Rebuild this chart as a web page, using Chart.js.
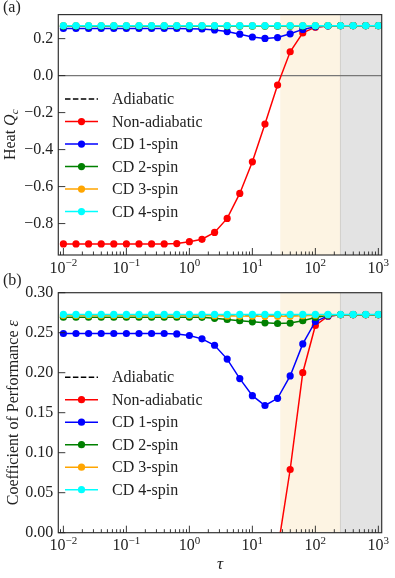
<!DOCTYPE html>
<html>
<head>
<meta charset="utf-8">
<script src="https://cdn.jsdelivr.net/npm/chart.js@4.4.1/dist/chart.umd.min.js"></script>
<style>
  body { margin: 0; background: #fff; }
  canvas { position: absolute; left: 0; }
  #heat { top: 0; }
  #cop { top: 268px; }
</style>
</head>
<body>
<canvas id="heat" width="395" height="278"></canvas>
<canvas id="cop" width="395" height="310"></canvas>
<script>
const tau = [0.01, 0.01585, 0.02512, 0.03981, 0.0631, 0.1, 0.1585, 0.2512, 0.3981, 0.631,
  1, 1.585, 2.512, 3.981, 6.31, 10, 15.85, 25.12, 39.81, 63.1,
  100, 158.5, 251.2, 398.1, 631, 1000]

const labels = ["Adiabatic", "Non-adiabatic", "CD 1-spin", "CD 2-spin", "CD 3-spin", "CD 4-spin"]
const colors = ["#000000", "#ff0000", "#0000ff", "#008000", "#ffa500", "#00ffff"]

// panel (a): heat Q_c
const heatAdiabatic = [0.27, 0.27, 0.27, 0.27, 0.27, 0.27, 0.27, 0.27, 0.27, 0.27,
  0.27, 0.27, 0.27, 0.27, 0.27, 0.27, 0.27, 0.27, 0.27, 0.27,
  0.27, 0.27, 0.27, 0.27, 0.27, 0.27]
const heatNonAdiabatic = [-0.91, -0.91, -0.91, -0.91, -0.91, -0.91, -0.91, -0.91, -0.91, -0.908,
  -0.898, -0.885, -0.848, -0.772, -0.637, -0.466, -0.262, -0.051, 0.129, 0.231,
  0.262, 0.269, 0.27, 0.27, 0.27, 0.27]
const heatCD1 = [0.255, 0.255, 0.255, 0.255, 0.255, 0.255, 0.255, 0.255, 0.255, 0.255,
  0.254, 0.252, 0.247, 0.238, 0.224, 0.209, 0.201, 0.206, 0.226, 0.25,
  0.264, 0.269, 0.27, 0.27, 0.27, 0.27]
const heatCD2 = [0.267, 0.267, 0.267, 0.267, 0.267, 0.267, 0.267, 0.267, 0.267, 0.267,
  0.267, 0.267, 0.267, 0.267, 0.267, 0.267, 0.267, 0.267, 0.267, 0.268,
  0.269, 0.27, 0.27, 0.27, 0.27, 0.27]
const heatCD3 = [0.27, 0.27, 0.27, 0.27, 0.27, 0.27, 0.27, 0.27, 0.27, 0.27,
  0.27, 0.27, 0.27, 0.27, 0.27, 0.27, 0.27, 0.27, 0.27, 0.27,
  0.27, 0.27, 0.27, 0.27, 0.27, 0.27]
const heatCD4 = [0.27, 0.27, 0.27, 0.27, 0.27, 0.27, 0.27, 0.27, 0.27, 0.27,
  0.27, 0.27, 0.27, 0.27, 0.27, 0.27, 0.27, 0.27, 0.27, 0.27,
  0.27, 0.27, 0.27, 0.27, 0.27, 0.27]

// panel (b): coefficient of performance
const copAdiabatic = [0.2725, 0.2725, 0.2725, 0.2725, 0.2725, 0.2725, 0.2725, 0.2725, 0.2725, 0.2725,
  0.2725, 0.2725, 0.2725, 0.2725, 0.2725, 0.2725, 0.2725, 0.2725, 0.2725, 0.2725,
  0.2725, 0.2725, 0.2725, 0.2725, 0.2725, 0.2725]
const copNonAdiabatic = [-1.2, -1.2, -1.2, -1.2, -1.2, -1.2, -1.2, -1.2, -1.2, -1.19,
  -1.17, -1.12, -1.04, -0.9, -0.7, -0.45, -0.2, -0.022, 0.079, 0.2,
  0.259, 0.2707, 0.2725, 0.2725, 0.2725, 0.2725]
const copCD1 = [0.249, 0.249, 0.249, 0.249, 0.249, 0.249, 0.249, 0.249, 0.249, 0.2485,
  0.2465, 0.2423, 0.2343, 0.217, 0.1926, 0.1713, 0.159, 0.168, 0.196, 0.236,
  0.264, 0.271, 0.2725, 0.2725, 0.2725, 0.2725]
const copCD2 = [0.2694, 0.2694, 0.2694, 0.2694, 0.2694, 0.2694, 0.2694, 0.2694, 0.2694, 0.2694,
  0.2694, 0.2692, 0.268, 0.2665, 0.265, 0.2636, 0.2624, 0.2615, 0.262, 0.265,
  0.269, 0.2718, 0.2725, 0.2725, 0.2725, 0.2725]
const copCD3 = [0.2715, 0.2715, 0.2715, 0.2715, 0.2715, 0.2715, 0.2715, 0.2715, 0.2715, 0.2715,
  0.2715, 0.2714, 0.2712, 0.271, 0.2708, 0.2706, 0.2705, 0.2705, 0.2706, 0.2712,
  0.2718, 0.2724, 0.2725, 0.2725, 0.2725, 0.2725]
const copCD4 = [0.2728, 0.2728, 0.2728, 0.2728, 0.2728, 0.2728, 0.2728, 0.2728, 0.2728, 0.2728,
  0.2728, 0.2728, 0.2728, 0.2728, 0.2728, 0.2728, 0.2728, 0.2728, 0.2728, 0.2728,
  0.2728, 0.2728, 0.2728, 0.2728, 0.2728, 0.2728]

const xExponents = [-2, -1, 0, 1, 2, 3]
const orangeSpan = [27.7, 250]
const graySpan = [250, 5000]

const serif = "'Liberation Serif', 'DejaVu Serif', serif"
const ink = "#222"
const fs = 16

function makeDatasets(series) {
  return series.map((vals, i) => ({
    label: labels[i],
    data: vals.map((v, k) => ({ x: tau[k], y: v })),
    borderColor: colors[i],
    backgroundColor: colors[i],
    borderWidth: 1.5,
    borderDash: i == 0 ? [5.5, 2.4] : [],
    pointRadius: i == 0 ? 0 : 3.6,
    pointBorderWidth: 0,
    order: 5 - i
  }))
}

// rich text: list of [text, font, dy]
function richWidth(c, parts) {
  let w = 0
  parts.forEach(p => { c.font = p[1]; w += c.measureText(p[0]).width })
  return w
}
function drawRich(c, parts, cx, cy) {
  let x = cx - richWidth(c, parts) / 2
  c.textAlign = "left"
  c.textBaseline = "alphabetic"
  parts.forEach(p => {
    c.font = p[1]
    c.fillText(p[0], x, cy + p[2])
    x += c.measureText(p[0]).width
  })
}

const deco = {
  id: "deco",
  beforeDatasetsDraw(chart, args, o) {
    const c = chart.ctx, a = chart.chartArea, xs = chart.scales.x, ys = chart.scales.y
    c.save()
    let x1 = Math.max(a.left, xs.getPixelForValue(orangeSpan[0]))
    let x2 = xs.getPixelForValue(orangeSpan[1])
    c.fillStyle = "#fdf4e3"
    c.fillRect(x1, a.top, x2 - x1, a.bottom - a.top)
    let g1 = xs.getPixelForValue(graySpan[0])
    c.fillStyle = "#e3e3e3"
    c.fillRect(g1, a.top, a.right - g1, a.bottom - a.top)
    c.strokeStyle = "#d2d0cc"
    c.lineWidth = 1
    c.beginPath(); c.moveTo(g1, a.top); c.lineTo(g1, a.bottom); c.stroke()
    if (o.zeroLine) {
      const y0 = ys.getPixelForValue(0)
      c.strokeStyle = "#777"
      c.lineWidth = 1.3
      c.beginPath(); c.moveTo(a.left, y0); c.lineTo(a.right, y0); c.stroke()
    }
    c.restore()
  },
  afterDatasetsDraw(chart, args, o) {
    const c = chart.ctx, a = chart.chartArea, xs = chart.scales.x, ys = chart.scales.y
    c.save()
    // frame
    c.strokeStyle = "#333"
    c.lineWidth = 1.2
    c.strokeRect(a.left, a.top, a.right - a.left, a.bottom - a.top)
    // ticks pointing inward
    c.lineWidth = 0.9
    c.strokeStyle = "#222"
    c.beginPath()
    ys.ticks.forEach(t => {
      const y = ys.getPixelForValue(t.value)
      c.moveTo(a.left, y); c.lineTo(a.left + 7, y)
    })
    for (let e = -3; e <= 3; e++) {
      for (let k = 1; k <= 9; k++) {
        const v = k * Math.pow(10, e)
        if (v < xs.min || v > xs.max) continue
        const x = xs.getPixelForValue(v)
        c.moveTo(x, a.bottom); c.lineTo(x, a.bottom - (k == 1 ? 7 : 3.5))
      }
    }
    c.stroke()
    // x tick labels 10^n
    c.fillStyle = ink
    xExponents.forEach(e => {
      const x = xs.getPixelForValue(Math.pow(10, e))
      const sup = e < 0 ? "\u2212" + (-e) : String(e)
      drawRich(c, [["10", fs + "px " + serif, 0], [sup, "11px " + serif, -6.5]], x, a.bottom + 17.5)
    })
    // legend
    labels.forEach((lab, i) => {
      const y = a.top + 84.5 + i * 22.5
      c.strokeStyle = colors[i]
      c.lineWidth = 1.5
      c.setLineDash(i == 0 ? [5.5, 2.4] : [])
      c.beginPath(); c.moveTo(a.left + 6.7, y); c.lineTo(a.left + 39.7, y); c.stroke()
      c.setLineDash([])
      if (i > 0) {
        c.fillStyle = colors[i]
        c.beginPath(); c.arc(a.left + 23.2, y, 3.6, 0, Math.PI * 2); c.fill()
      }
      c.fillStyle = ink
      c.font = fs + "px " + serif
      c.textAlign = "left"
      c.textBaseline = "middle"
      c.fillText(lab, a.left + 53.7, y + 1)
    })
    // y title
    c.save()
    c.translate(o.yTitleX, (a.top + a.bottom) / 2)
    c.rotate(-Math.PI / 2)
    c.fillStyle = ink
    drawRich(c, o.yTitle, 0, 5)
    c.restore()
    // panel label
    c.fillStyle = ink
    c.font = fs + "px " + serif
    c.textAlign = "left"
    c.textBaseline = "middle"
    c.fillText(o.panel, 3, o.panelY)
    if (o.xTitle) {
      drawRich(c, [["\u03c4", "italic 17px " + serif, 0]], (a.left + a.right) / 2, a.bottom + 36)
    }
    c.restore()
  }
}

function makeChart(id, series, yMin, yMax, step, digits, pad, o) {
  return new Chart(document.getElementById(id), {
    type: "line",
    data: { datasets: makeDatasets(series) },
    options: {
      responsive: false,
      animation: false,
      devicePixelRatio: 1,
      layout: { padding: pad },
      plugins: { legend: { display: false }, tooltip: { enabled: false }, deco: o },
      scales: {
        x: {
          type: "logarithmic", min: 0.0083, max: 1130,
          grid: { display: false, drawTicks: false },
          border: { display: false },
          ticks: { display: false },
          afterFit: s => { s.height = 0 }
        },
        y: {
          min: yMin, max: yMax,
          grid: { display: false, drawTicks: false },
          border: { display: false },
          ticks: {
            stepSize: step, includeBounds: false, padding: 5, color: ink,
            font: { family: serif, size: fs },
            callback: v => (Math.abs(v) < 1e-9 ? 0 : v).toFixed(digits).replace("-", "\u2212")
          },
          afterFit: s => { s.width = 58.3 }
        }
      }
    },
    plugins: [deco]
  })
}

makeChart("heat", [heatAdiabatic, heatNonAdiabatic, heatCD1, heatCD2, heatCD3, heatCD4],
  -0.97, 0.33, 0.2, 1, { left: 0, top: 14, right: 13.3, bottom: 23 },
  {
    zeroLine: true, panel: "(a)", panelY: 8, yTitleX: 10, xTitle: false,
    yTitle: [["Heat ", fs + "px " + serif, 0], ["Q", "italic " + fs + "px " + serif, 0], ["c", "italic 11px " + serif, 3]]
  })

makeChart("cop", [copAdiabatic, copNonAdiabatic, copCD1, copCD2, copCD3, copCD4],
  0, 0.30, 0.05, 2, { left: 0, top: 24.7, right: 13.3, bottom: 45.3 },
  {
    zeroLine: false, panel: "(b)", panelY: 13, yTitleX: 13, xTitle: true,
    yTitle: [["Coefficient of Performance ", fs + "px " + serif, 0], ["\u03b5", "italic " + fs + "px " + serif, 0]]
  })
</script>
</body>
</html>
